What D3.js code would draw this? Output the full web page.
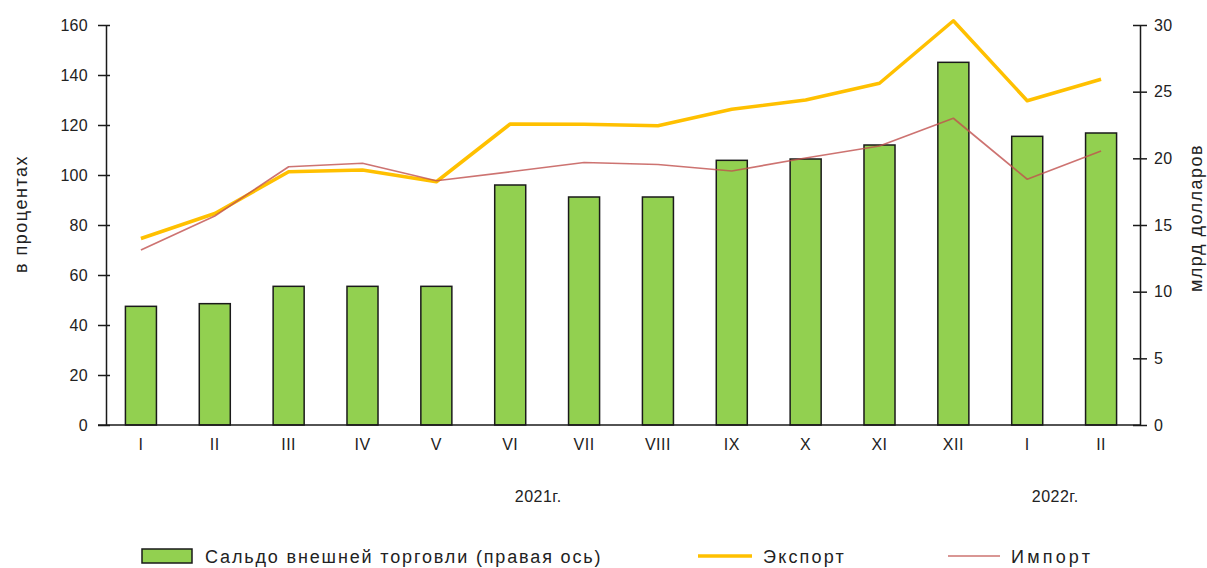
<!DOCTYPE html>
<html><head><meta charset="utf-8">
<script src="https://cdn.jsdelivr.net/npm/d3@7"></script>
<style>body{margin:0;background:#fff;}svg{display:block;font-family:"Liberation Sans",Arial,sans-serif;}</style>
</head><body>
<svg id="chart" width="1207" height="568"></svg>
<script>
const categories = ["I","II","III","IV","V","VI","VII","VIII","IX","X","XI","XII","I ","II "];
const saldo = [8.9, 9.1, 10.4, 10.4, 10.4, 18.0, 17.1, 17.1, 19.85, 19.95, 21.0, 27.2, 21.65, 21.9];
const exportVals = [74.6, 84.6, 101.3, 102.0, 97.3, 120.4, 120.3, 119.7, 126.3, 130.0, 136.7, 161.7, 129.7, 138.3];
const importVals = [70.0, 83.6, 103.3, 104.7, 97.7, 101.3, 105.0, 104.2, 101.6, 106.8, 111.6, 122.7, 98.3, 109.6];
const leftTicks = [0,20,40,60,80,100,120,140,160];
const rightTicks = [0,5,10,15,20,25,30];
const yearLabels = [{label:"2021г.", at:"VI"}, {label:"2022г.", at:"I "}];

const svg = d3.select("#chart");
const L = 106, R = 1140, T = 25, B = 425;
const FONT = '"Liberation Sans",Arial,sans-serif';
const x = d3.scaleBand().domain(categories).range([L - 2, R - 2]).paddingInner(0.58).paddingOuter(0.29);
const yL = d3.scaleLinear().domain([0,160]).range([B, T]);
const yR = d3.scaleLinear().domain([0,30]).range([B, T]);
const cx = d => x(d) + x.bandwidth()/2;

// bars
svg.append("g").selectAll("rect").data(categories).join("rect")
  .attr("x", d => x(d)).attr("width", x.bandwidth())
  .attr("y", (d,i) => yR(saldo[i])).attr("height", (d,i) => B - yR(saldo[i]))
  .attr("fill", "#92D050").attr("stroke", "#1a1a1a").attr("stroke-width", 1.5);

// axes
const axL = d3.axisLeft(yL).tickValues(leftTicks).tickSizeInner(8).tickSizeOuter(0).tickPadding(10);
const gL = svg.append("g").attr("transform", `translate(${L},0)`).call(axL);
gL.selectAll(".tick line").attr("x2", 4).attr("x1", -8);
const axR = d3.axisRight(yR).tickValues(rightTicks).tickSizeInner(7).tickSizeOuter(0).tickPadding(7);
const gR = svg.append("g").attr("transform", `translate(${R},0)`).call(axR);
gR.selectAll(".tick line").attr("x1", -7).attr("x2", 7);
[gL, gR].forEach(g => {
  g.select(".domain").attr("stroke", "#1a1a1a").attr("stroke-width", 1.5);
  g.selectAll(".tick line").attr("stroke", "#1a1a1a").attr("stroke-width", 1.5);
  g.selectAll("text").attr("font-size", 16).attr("fill", "#222").attr("font-family", FONT).attr("letter-spacing", 0.3);
});
const axB = d3.axisBottom(x).tickSize(0).tickPadding(14).tickFormat(d => d.trim());
const gB = svg.append("g").attr("transform", `translate(0,${B})`).call(axB);
gB.select(".domain").attr("d", `M${L-8},0H${R}`).attr("stroke", "#1a1a1a").attr("stroke-width", 1.5);
gB.selectAll("text").attr("font-size", 16).attr("fill", "#222").attr("font-family", FONT).attr("letter-spacing", 0.5);

// lines
const lineL = vals => d3.line().x((d,i) => cx(categories[i])).y(d => yL(d))(vals);
svg.append("path").attr("d", lineL(exportVals)).attr("fill","none").attr("stroke","#FFC000").attr("stroke-width",3.5).attr("stroke-linejoin","round");
svg.append("path").attr("d", lineL(importVals)).attr("fill","none").attr("stroke","#C0504D").attr("stroke-opacity",0.8).attr("stroke-width",1.7).attr("stroke-linejoin","round");

// axis titles
svg.append("text").attr("transform","translate(27,214) rotate(-90)").attr("text-anchor","middle")
  .attr("font-size",18).attr("letter-spacing",1.5).attr("fill","#222").text("в процентах");
svg.append("text").attr("transform","translate(1202,218) rotate(-90)").attr("text-anchor","middle")
  .attr("font-size",18).attr("letter-spacing",1.5).attr("fill","#222").text("млрд долларов");

// year labels
svg.append("g").selectAll("text").data(yearLabels).join("text")
  .attr("x", d => cx(d.at) + 28).attr("y", 502).attr("text-anchor","middle")
  .attr("font-size",16).attr("letter-spacing",0.5).attr("fill","#222").text(d => d.label);

// legend
const lg = svg.append("g").attr("font-size",18).attr("fill","#222");
lg.append("rect").attr("x",142).attr("y",549).attr("width",50).attr("height",14)
  .attr("fill","#92D050").attr("stroke","#1a1a1a").attr("stroke-width",1.5);
lg.append("text").attr("x",205).attr("y",563).attr("letter-spacing",1.85).text("Сальдо  внешней торговли (правая ось)");
lg.append("line").attr("x1",698).attr("x2",752).attr("y1",556).attr("y2",556).attr("stroke","#FFC000").attr("stroke-width",3.5);
lg.append("text").attr("x",763).attr("y",563).attr("letter-spacing",2.2).text("Экспорт");
lg.append("line").attr("x1",948).attr("x2",1000).attr("y1",556).attr("y2",556).attr("stroke","#C0504D").attr("stroke-opacity",0.8).attr("stroke-width",1.7);
lg.append("text").attr("x",1011).attr("y",563).attr("letter-spacing",3.2).text("Импорт");
</script>
</body></html>
